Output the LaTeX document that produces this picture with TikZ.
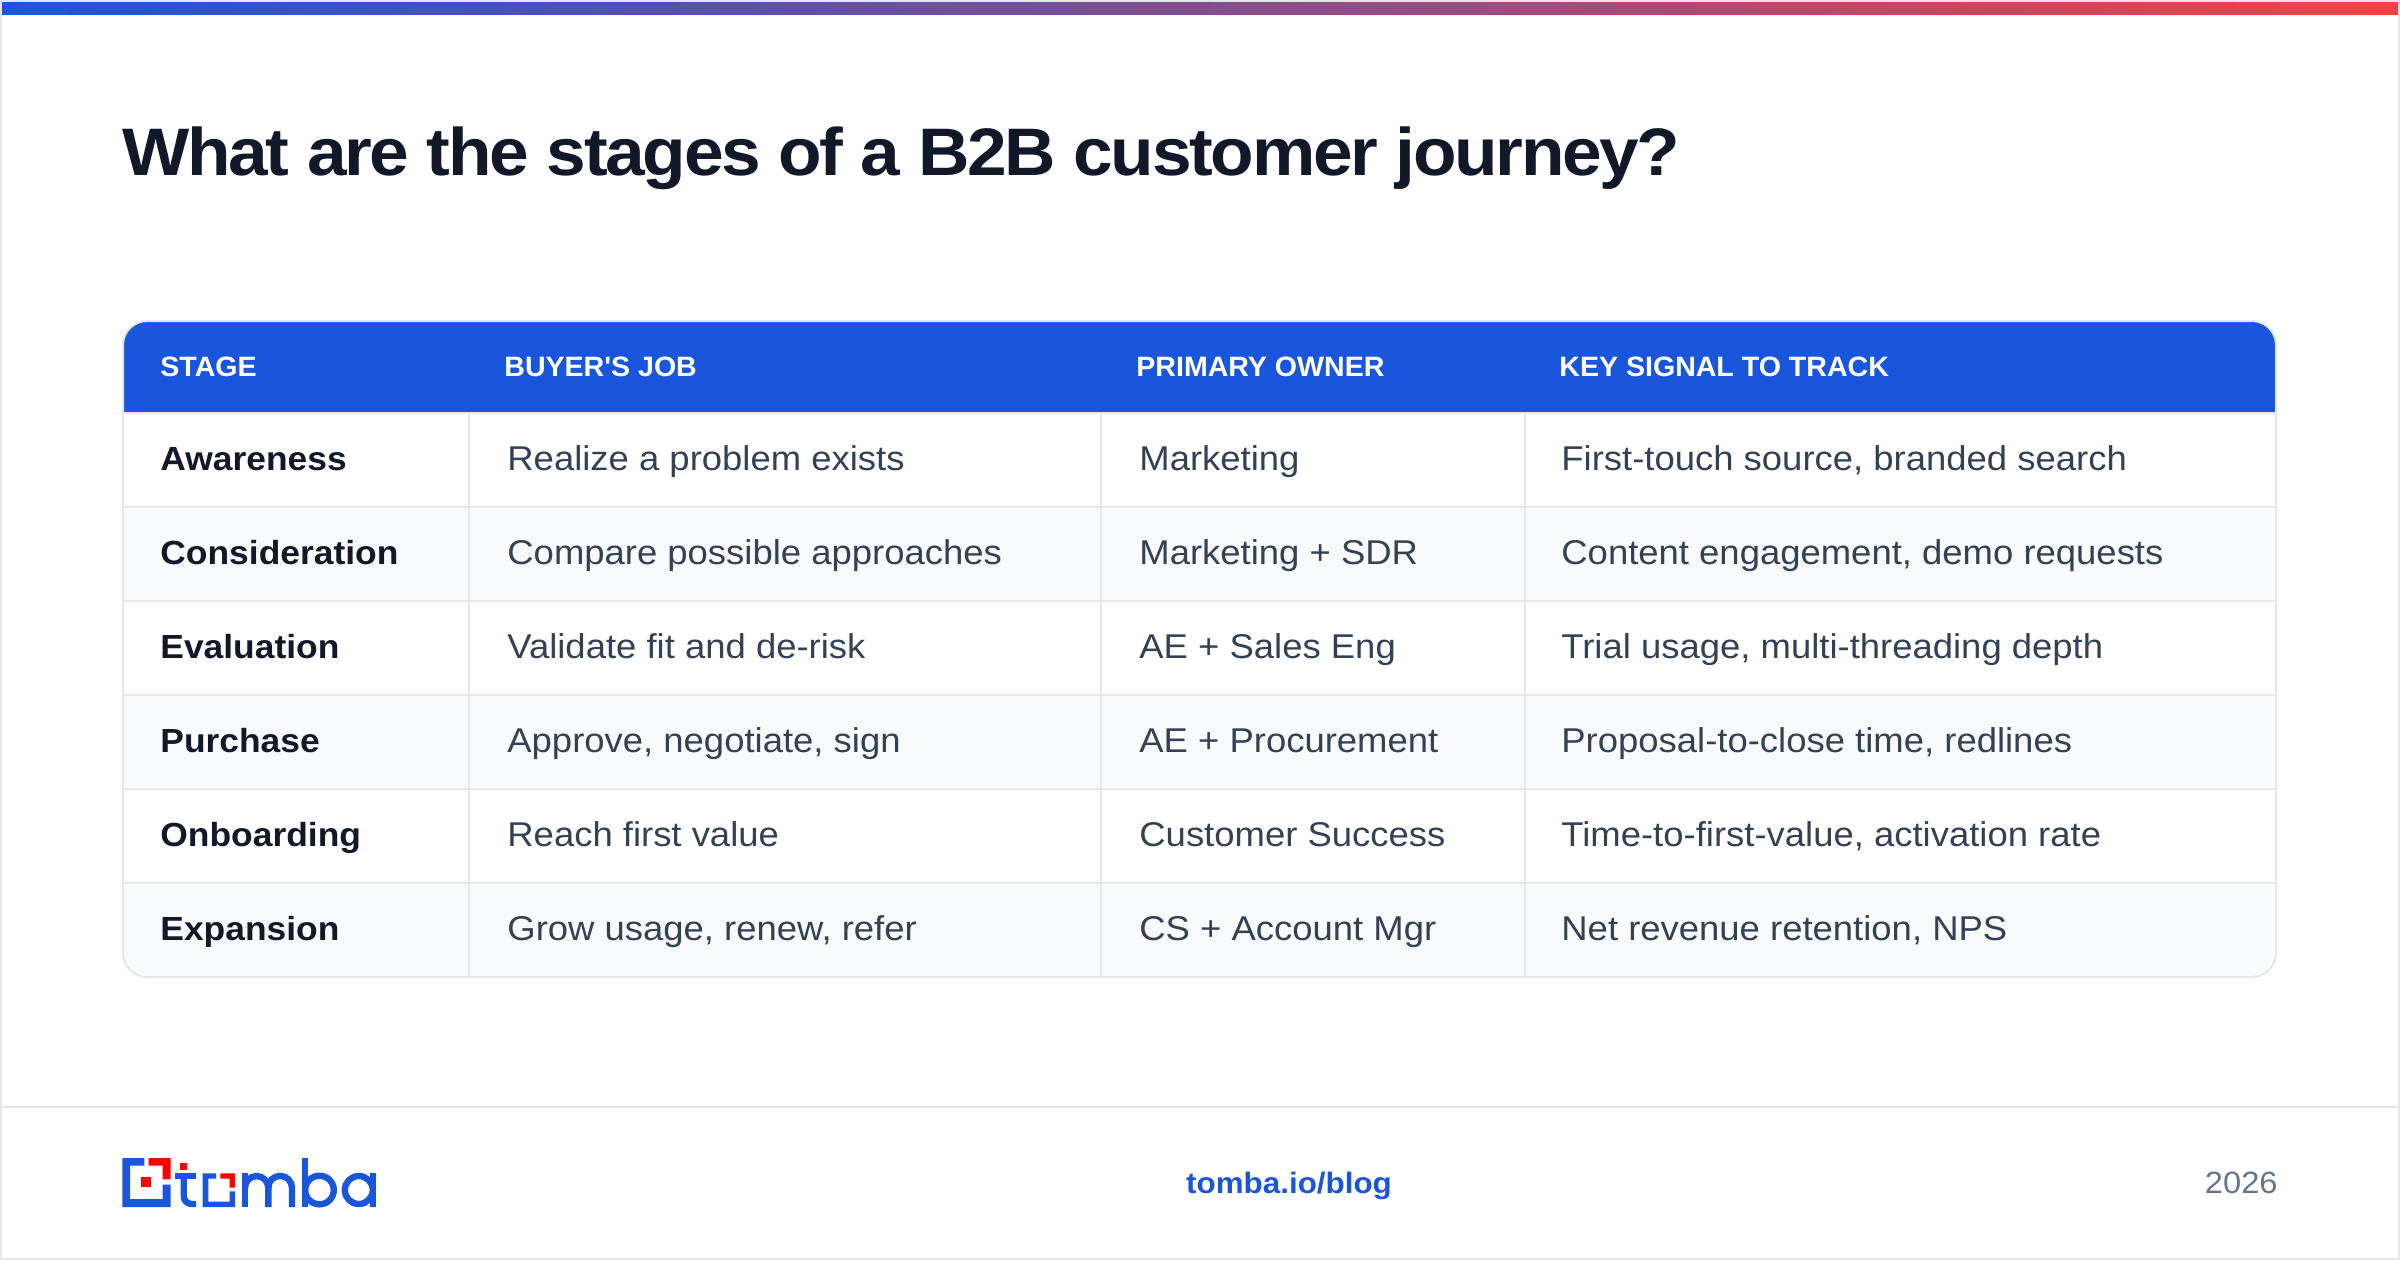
\documentclass[tikz,border=0pt]{standalone}
\usepackage{fontspec}
\setmainfont[FakeStretch=1.06]{Liberation Sans}
\newfontfamily\headfont[FakeStretch=1.02]{Liberation Sans}
\definecolor{brandblue}{HTML}{1A56DB}
\definecolor{brandred}{HTML}{EF4444}
\definecolor{logored}{HTML}{FF0000}
\definecolor{rulegrey}{HTML}{E5E7EB}
\definecolor{rowgrey}{HTML}{F8FAFC}
\definecolor{inkdark}{HTML}{111827}
\definecolor{inkbody}{HTML}{334155}
\definecolor{inkmuted}{HTML}{64748B}
\begin{document}
\begin{tikzpicture}[
            x = 0.5pt, % one unit is one reference pixel
            y = -0.5pt,
            rule/.style = {draw = rulegrey, line width = 1pt},
            logoblue/.style = {fill = brandblue, draw = none},
            logored/.style = {fill = logored, draw = none},
            letter/.style = {draw = brandblue, line width = 3.2pt},
            headtext/.style = {anchor = base west, inner sep = 0pt, text = white, font = \headfont\fontsize{14}{16}\selectfont\bfseries},
            stagetext/.style = {anchor = base west, inner sep = 0pt, text = inkdark, font = \fontsize{16.7}{20}\selectfont\bfseries},
            celltext/.style = {anchor = base west, inner sep = 0pt, text = inkbody, font = \fontsize{17.2}{20}\selectfont}
        ]
        \useasboundingbox (0,0) rectangle (2400,1260);
        \fill[white] (0,0) rectangle (2400,1260);

        % frame and top band
        \draw[rule] (1,1) rectangle (2399,1259);
        \shade[left color = brandblue, right color = brandred] (2,2) rectangle (2398,14);
        \draw[rule] (2,1107) -- (2398,1107);

        \node (title) [anchor = base west, inner sep = 0pt, text = inkdark, font = \fontsize{33.6}{40}\selectfont\bfseries\addfontfeature{LetterSpace=-3.4}] at (122,175) {What are the stages of a B2B customer journey?};

        % table body
        \begin{scope}
            \clip[rounded corners = 12pt] (123,321) rectangle (2276,977);
            \fill[brandblue] (123,321) rectangle (2276,413);
            \fill[rowgrey] (123,507) rectangle (2276,601);
            \fill[rowgrey] (123,695) rectangle (2276,789);
            \fill[rowgrey] (123,883) rectangle (2276,977);
        \end{scope}
        \foreach \rowy in {413,507,601,695,789,883}
            \draw[rule] (123,\rowy) -- (2276,\rowy);
        \foreach \colx in {469,1101,1525}
            \draw[rule] (\colx,414) -- (\colx,976);
        \draw[rule, rounded corners = 12pt] (123,321) rectangle (2276,977);

        % header row
        \node (headstage) [headtext] at (160,376) {STAGE};
        \node (headjob) [headtext] at (504,376) {BUYER'S JOB};
        \node (headowner) [headtext] at (1136,376) {PRIMARY OWNER};
        \node (headsignal) [headtext] at (1559,376) {KEY SIGNAL TO TRACK};

        % rows
        \foreach \r/\stage/\job/\owner/\signal in {
            0/Awareness/{Realize a problem exists}/Marketing/{First-touch source, branded search},
            1/Consideration/{Compare possible approaches}/{Marketing + SDR}/{Content engagement, demo requests},
            2/Evaluation/{Validate fit and de-risk}/{AE + Sales Eng}/{Trial usage, multi-threading depth},
            3/Purchase/{Approve, negotiate, sign}/{AE + Procurement}/{Proposal-to-close time, redlines},
            4/Onboarding/{Reach first value}/{Customer Success}/{Time-to-first-value, activation rate},
            5/Expansion/{Grow usage, renew, refer}/{CS + Account Mgr}/{Net revenue retention, NPS}} {
            \pgfmathsetmacro{\basey}{470 + 94*\r}
            \node (stage\r) [stagetext] at (160,\basey) {\stage};
            \node (job\r) [celltext] at (507,\basey) {\job};
            \node (owner\r) [celltext] at (1139,\basey) {\owner};
            \node (signal\r) [celltext] at (1561,\basey) {\signal};
        }

        % logo mark
        \fill[logoblue] (122.3,1158) -- (144.3,1158) -- (144.3,1165.7) -- (130,1165.7) -- (130,1199) -- (162.7,1199) -- (162.7,1184.7) -- (170.7,1184.7) -- (170.7,1207) -- (122.3,1207) -- cycle;
        \fill[logored] (148.7,1158) -- (170.7,1158) -- (170.7,1179.3) -- (162.7,1179.3) -- (162.7,1165.7) -- (148.7,1165.7) -- cycle;
        \fill[logored] (141.3,1177.3) rectangle (151,1187);
        \fill[logored] (180.3,1163) rectangle (187,1169.7);
        % logo letters
        \fill[logoblue] (175,1173.3) rectangle (196,1178.7);
        \draw[letter] (183.7,1173.3) -- (183.7,1196) arc[start angle = 180, end angle = 90, radius = 8] -- (196,1204);
        \fill[logoblue] (202.7,1173.3) -- (216,1173.3) -- (216,1178.7) -- (208.3,1178.7) -- (208.3,1201.7) -- (229.7,1201.7) -- (229.7,1191.3) -- (235,1191.3) -- (235,1207) -- (202.7,1207) -- cycle;
        \fill[logored] (220.3,1173.3) -- (235,1173.3) -- (235,1187.7) -- (229.7,1187.7) -- (229.7,1178.7) -- (220.3,1178.7) -- cycle;
        \draw[letter] (245,1207) -- (245,1172.7);
        \draw[letter] (245,1187.7) arc[start angle = 180, end angle = 360, radius = 11.65] -- (268.3,1207);
        \draw[letter] (268.3,1187.7) arc[start angle = 180, end angle = 360, radius = 11.85] -- (292,1207);
        \draw[letter] (305,1158) -- (305,1207);
        \draw[letter] (319.5,1190) circle[radius = 14.3];
        \draw[letter] (358.8,1190) circle[radius = 14];
        \draw[letter] (372.7,1173) -- (372.7,1207);

        % footer
        \node (site) [anchor = base, inner sep = 0pt, text = brandblue, font = \fontsize{14.8}{18}\selectfont\bfseries] at (1289,1193) {tomba.io/blog};
        \node (year) [anchor = base east, inner sep = 0pt, text = inkmuted, font = \fontsize{15.4}{18}\selectfont] at (2278,1193) {2026};
    \end{tikzpicture}
\end{document}
